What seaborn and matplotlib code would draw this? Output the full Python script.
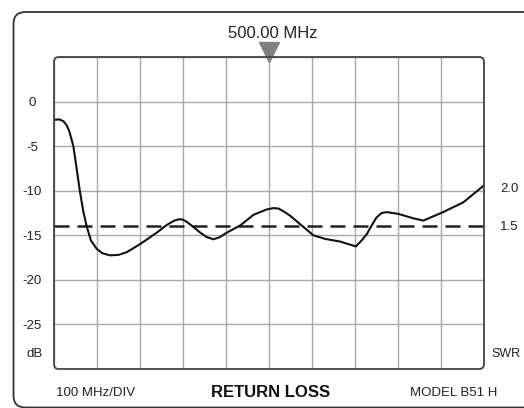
import matplotlib
matplotlib.use("Agg")
import matplotlib.pyplot as plt
import matplotlib.transforms as mtransforms
from matplotlib.patches import FancyBboxPatch
import seaborn as sns
import pandas as pd

# ---- data ----
freq_mhz = [0, 12, 22, 30, 36, 45, 52, 60, 68, 76, 86, 99, 112, 130, 150, 169, 200, 239,
            262, 280, 291, 300, 309, 325, 340, 355, 371, 386, 402, 433, 464, 495, 510,
            522, 535, 549, 576, 603, 630, 665, 702, 715, 727, 740, 750, 762, 774, 801,
            836, 859, 905, 952, 1000]
return_loss_db = [-2.05, -2.0, -2.2, -2.7, -3.4, -5.0, -7.3, -10.0, -12.3, -14.0, -15.6,
                  -16.5, -17.0, -17.25, -17.2, -16.9, -16.0, -14.7, -13.85, -13.35, -13.2,
                  -13.25, -13.5, -14.1, -14.7, -15.2, -15.45, -15.2, -14.7, -13.9, -12.7,
                  -12.1, -11.95, -12.0, -12.35, -12.8, -13.9, -15.0, -15.4, -15.7, -16.25,
                  -15.6, -14.9, -13.8, -13.0, -12.5, -12.4, -12.6, -13.1, -13.35, -12.4,
                  -11.3, -9.4]
y_ticks = [-30, -25, -20, -15, -10, -5, 0, 5]
y_tick_labels = ["", "-25", "-20", "-15", "-10", "-5", "0", ""]
x_ticks = [0, 100, 200, 300, 400, 500, 600, 700, 800, 900, 1000]
marker_freq = 500
swr_levels = [2.0, 1.5]
swr_db = [-9.54, -13.98]
swr_label_y = [-9.8, -14.1]

df = pd.DataFrame({"freq": freq_mhz, "rl": return_loss_db})

sns.set_theme(style="white")
plt.rcParams["font.family"] = ["Liberation Sans", "DejaVu Sans"]

W, H = 524, 408
fig = plt.figure(figsize=(W / 100, H / 100), dpi=100)
ax = fig.add_axes([54 / W, (H - 369) / H, 430 / W, 312 / H])
ax.set_xlim(0, 1000)
ax.set_ylim(-30, 5)
ax.set_facecolor("white")

ax.set_xticks(x_ticks)
ax.set_xticklabels([])
ax.set_yticks(y_ticks)
ax.set_yticklabels(y_tick_labels, fontsize=9.5, color="#222222")
for lab in ax.get_yticklabels():
    lab.set_horizontalalignment("center")
ax.tick_params(axis="both", length=0)
ax.tick_params(axis="y", pad=15.8)
ax.grid(True, color="#a8a8a8", lw=1.0)
ax.set_axisbelow(True)
for s in ax.spines.values():
    s.set_visible(False)

# plot-area border with rounded corners
ident = mtransforms.IdentityTransform()
inner = FancyBboxPatch((54, H - 369), 430, 312,
                       boxstyle="round,pad=0,rounding_size=5",
                       transform=ident, fill=False, ec="#444444", lw=1.3,
                       zorder=5)
fig.add_artist(inner)

# outer frame
outer = FancyBboxPatch((13.5, 0.5), 540, H - 12.5,
                       boxstyle="round,pad=0,rounding_size=12",
                       transform=ident, fill=False, ec="#333333", lw=1.3)
fig.add_artist(outer)

# SWR 1.5 reference line
ax.axhline(swr_db[1], color="#222222", lw=1.8, ls=(0, (6, 3.2)), zorder=3)

# trace
sns.lineplot(data=df, x="freq", y="rl", ax=ax, color="#111111", lw=1.5, zorder=4)
ax.set_xlabel("")
ax.set_ylabel("")

# marker
ax.plot([marker_freq], [5.56], marker="v", ms=15, color="#808080", clip_on=False,
        zorder=6, mec="#808080")
ax.text(marker_freq + 9, 7.6, "500.00 MHz", ha="center", va="center", fontsize=12,
        color="#222222")

# right labels
trans = mtransforms.blended_transform_factory(ax.transAxes, ax.transData)
for lvl, yv in zip(swr_levels, swr_label_y):
    ax.text(1.037, yv, f"{lvl:.1f}", transform=trans, ha="left", va="center",
            fontsize=9.5, color="#222222")
fig.text(521 / W, (H - 354) / H, "SWR", ha="right", va="center", fontsize=9,
         color="#222222")
ax.text(-0.044, -28.35, "dB", transform=trans, ha="center", va="center", fontsize=9.5,
        color="#222222")

# bottom labels
fig.text(56 / W, 0.0375, "100 MHz/DIV", ha="left", va="center", fontsize=9.5,
         color="#222222")
fig.text(270.5 / W, 0.0375, "RETURN LOSS", ha="center", va="center", fontsize=12,
         fontweight="bold", color="#111111")
fig.text(454 / W, 0.0375, "MODEL B51 H", ha="center", va="center", fontsize=9.5,
         color="#222222")

fig.savefig("out.png", dpi=100, facecolor="white")
